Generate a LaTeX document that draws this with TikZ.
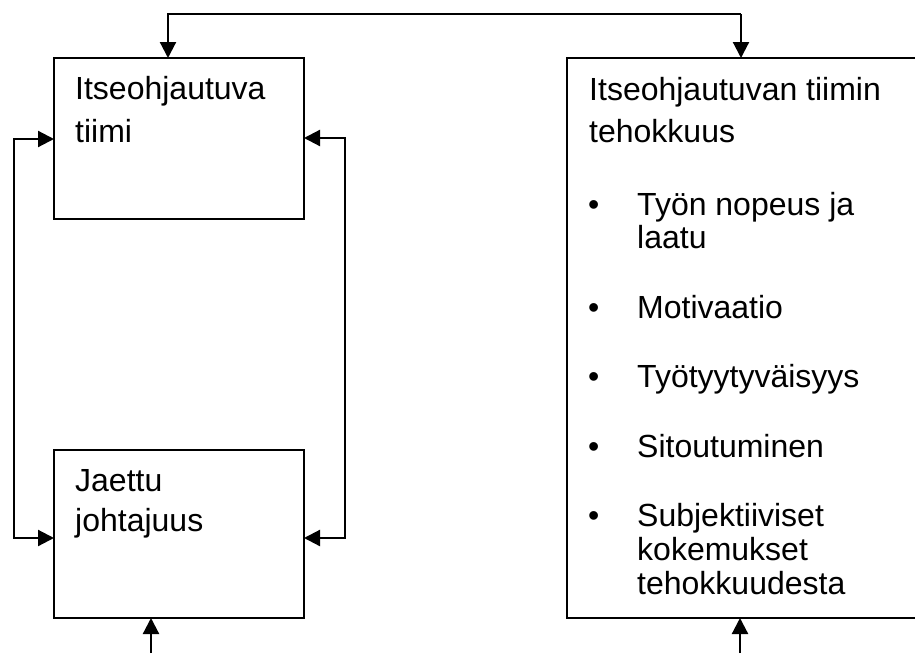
\documentclass[tikz,border=0pt]{standalone}
\usepackage{fontspec}
\setmainfont{Liberation Sans}
\usetikzlibrary{arrows.meta,calc}
\begin{document}
\begin{tikzpicture}[x=1pt,y=-1pt,
  box/.style={draw,line width=2.2pt,inner sep=0pt,outer sep=0pt,anchor=north west},
  arr/.style={line width=2.2pt,-{Triangle[length=16pt,width=16pt]}},
  txt/.style={anchor=base west,inner sep=0pt,font=\fontsize{32}{35}\selectfont},
  bul/.style={anchor=base west,inner sep=0pt,font=\fontsize{32}{35}\selectfont}]
\useasboundingbox (0,0) rectangle (915,653);
% boxes
\node[box,minimum width=250pt,minimum height=161pt] (A) at (54,58) {};
\node[box,minimum width=250pt,minimum height=168pt] (B) at (54,450) {};
\node[box,minimum width=370pt,minimum height=560pt] (C) at (567,58) {};
% texts box A
\node[txt] (a1) at (75,99) {Itseohjautuva};
\node[txt] (a2) at (75,142) {tiimi};
% texts box B
\node[txt] (b1t) at (75,491) {Jaettu};
\node[txt] (b2t) at (75,531) {johtajuus};
% texts box C
\node[txt] (c1) at (589,100) {Itseohjautuvan tiimin};
\node[txt] (c2) at (589,142) {tehokkuus};
\node[bul] (d1) at (588,215) {•};
\node[txt] (e1) at (637,215) {Työn nopeus ja};
\node[txt] (e1b) at (637,248) {laatu};
\node[bul] (d2) at (588,318) {•};
\node[txt] (e2) at (637,318) {Motivaatio};
\node[bul] (d3) at (588,387) {•};
\node[txt] (e3) at (637,387) {Työtyytyväisyys};
\node[bul] (d4) at (588,457) {•};
\node[txt] (e4) at (637,457) {Sitoutuminen};
\node[bul] (d5) at (588,526) {•};
\node[txt] (e5) at (637,526) {Subjektiiviset};
\node[txt] (e5b) at (637,560) {kokemukset};
\node[txt] (e5c) at (637,594) {tehokkuudesta};
% top connector
\coordinate (tA) at (168,14);
\coordinate (tC) at (741,14);
\draw[arr] (tC) -- (tA) -- (tA |- A.north);
\draw[arr] (tC) -- (tC |- C.north);
% left loop
\coordinate (l1) at (14,139);
\coordinate (l2) at (14,538);
\draw[arr] (l2) -- (l1) -- (l1 -| A.west);
\draw[arr] (l1) -- (l2) -- (l2 -| B.west);
% right loop
\coordinate (r1) at (345,138);
\coordinate (r2) at (345,538);
\draw[arr] (r2) -- (r1) -- (r1 -| A.east);
\draw[arr] (r1) -- (r2) -- (r2 -| B.east);
% bottom arrows
\coordinate (bb) at (151,653);
\coordinate (bc) at (740,653);
\draw[arr] (bb) -- (bb |- B.south);
\draw[arr] (bc) -- (bc |- C.south);
\end{tikzpicture}
\end{document}
